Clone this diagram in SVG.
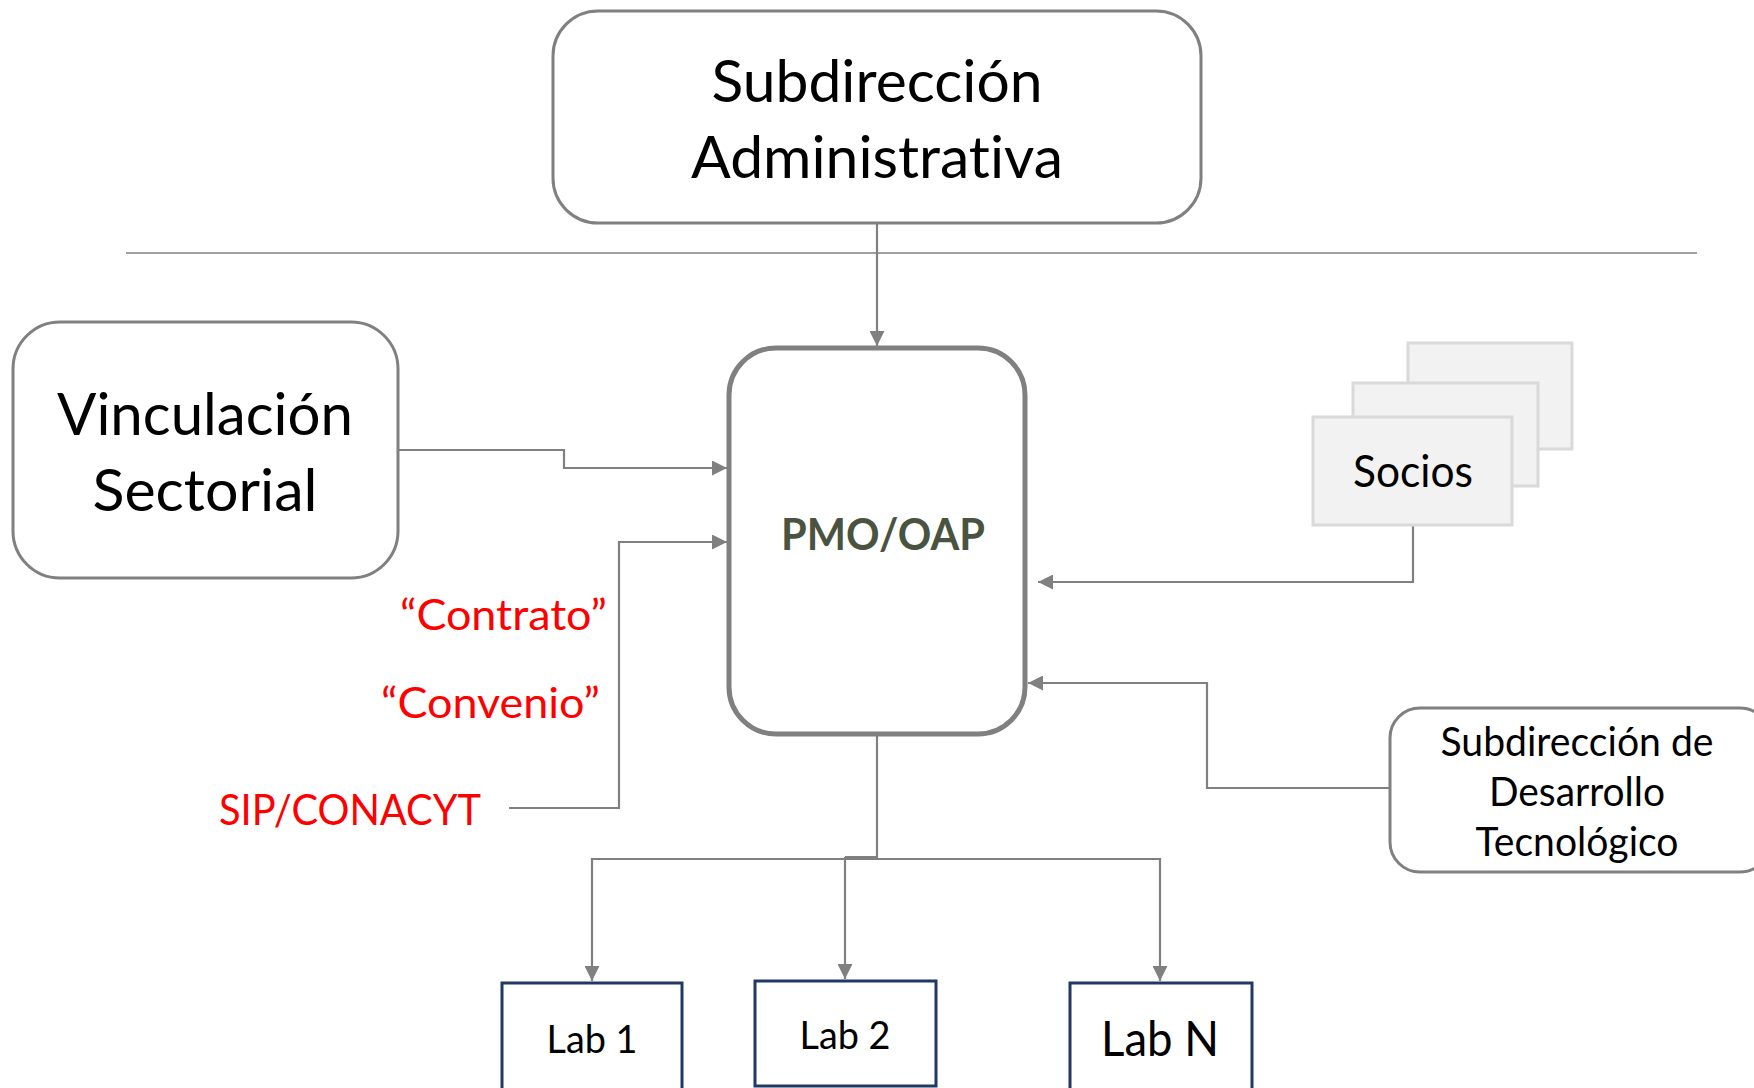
<svg xmlns="http://www.w3.org/2000/svg" width="1754" height="1088" viewBox="0 0 1754 1088">
<style>
text{font-family:Lato,"Open Sans","Liberation Sans",sans-serif;fill:#000;font-variant-ligatures:none}
.box{fill:#fff;stroke:#808080;stroke-width:3}
.pmo{fill:#fff;stroke:#808080;stroke-width:5}
.soc{fill:#f2f2f2;stroke:#d9d9d9;stroke-width:3}
.lab{fill:#fff;stroke:#1f3864;stroke-width:3}
.con{fill:none;stroke:#808080;stroke-width:2.2}
.red{fill:#ff0000;font-size:43px}
</style>
<defs>
<marker id="arr" markerUnits="userSpaceOnUse" markerWidth="15" markerHeight="15" refX="15" refY="7.5" orient="auto">
<path d="M0,0 L15,7.5 L0,15 z" fill="#808080"/>
</marker>
</defs>
<rect width="1754" height="1088" fill="#fff"/>
<line x1="126" y1="253" x2="1697" y2="253" stroke="#808080" stroke-width="1.6"/>

<g id="connectors">
<path class="con" d="M877,223 V346" marker-end="url(#arr)"/>
<path class="con" d="M399,450 H564 V468 H727" marker-end="url(#arr)"/>
<path class="con" d="M509,808 H619 V542 H727" marker-end="url(#arr)"/>
<path class="con" d="M1413,525 V582 H1038" marker-end="url(#arr)"/>
<path class="con" d="M1390,788 H1207 V683 H1028" marker-end="url(#arr)"/>
<path class="con" d="M877,736 V857 H845"/>
<path class="con" d="M877,859 H592 V981" marker-end="url(#arr)"/>
<path class="con" d="M845,857 V979" marker-end="url(#arr)"/>
<path class="con" d="M877,859 H1160 V981" marker-end="url(#arr)"/>
</g>

<g id="subdireccion-administrativa">
<rect class="box" x="553" y="11" width="648" height="212" rx="45"/>
<text x="877" y="102" font-size="59" text-anchor="middle" textLength="331" lengthAdjust="spacingAndGlyphs">Subdirección</text>
<text x="877" y="178" font-size="59" text-anchor="middle" textLength="372" lengthAdjust="spacingAndGlyphs">Administrativa</text>
</g>

<g id="pmo">
<rect class="pmo" x="729" y="348" width="296" height="386" rx="47"/>
<text x="883" y="550" font-size="44" font-weight="bold" text-anchor="middle" style="fill:#4a5340" textLength="204" lengthAdjust="spacingAndGlyphs">PMO/OAP</text>
</g>

<g id="vinculacion">
<rect class="box" x="13" y="322" width="385" height="256" rx="47"/>
<text x="205" y="435" font-size="59" text-anchor="middle" textLength="296" lengthAdjust="spacingAndGlyphs">Vinculación</text>
<text x="205" y="511" font-size="59" text-anchor="middle" textLength="225" lengthAdjust="spacingAndGlyphs">Sectorial</text>
</g>

<g id="labels">
<text class="red" x="400" y="630" textLength="207" lengthAdjust="spacingAndGlyphs">“Contrato”</text>
<text class="red" x="381" y="718" textLength="219" lengthAdjust="spacingAndGlyphs">“Convenio”</text>
<text class="red" x="219" y="825" textLength="262" lengthAdjust="spacingAndGlyphs">SIP/CONACYT</text>
</g>

<g id="socios">
<rect class="soc" x="1408" y="343" width="164" height="106"/>
<rect class="soc" x="1353" y="383" width="185" height="103"/>
<rect class="soc" x="1313" y="417" width="199" height="108"/>
<text x="1413" y="487" font-size="44" text-anchor="middle" textLength="120" lengthAdjust="spacingAndGlyphs">Socios</text>
</g>

<g id="subdireccion-desarrollo">
<rect class="box" x="1390" y="708" width="380" height="164" rx="30"/>
<text x="1577" y="756" font-size="40" text-anchor="middle" textLength="273" lengthAdjust="spacingAndGlyphs">Subdirección de</text>
<text x="1577" y="806" font-size="40" text-anchor="middle" textLength="176" lengthAdjust="spacingAndGlyphs">Desarrollo</text>
<text x="1577" y="856" font-size="40" text-anchor="middle" textLength="203" lengthAdjust="spacingAndGlyphs">Tecnológico</text>
</g>

<g id="lab1">
<rect class="lab" x="502" y="983" width="180" height="120"/>
<text x="592" y="1053" font-size="39" text-anchor="middle" textLength="91" lengthAdjust="spacingAndGlyphs">Lab 1</text>
</g>
<g id="lab2">
<rect class="lab" x="755" y="981" width="181" height="105"/>
<text x="845" y="1049" font-size="39" text-anchor="middle" textLength="91" lengthAdjust="spacingAndGlyphs">Lab 2</text>
</g>
<g id="labN">
<rect class="lab" x="1070" y="983" width="182" height="120"/>
<text x="1160" y="1056" font-size="49" text-anchor="middle" textLength="118" lengthAdjust="spacingAndGlyphs">Lab N</text>
</g>
</svg>
